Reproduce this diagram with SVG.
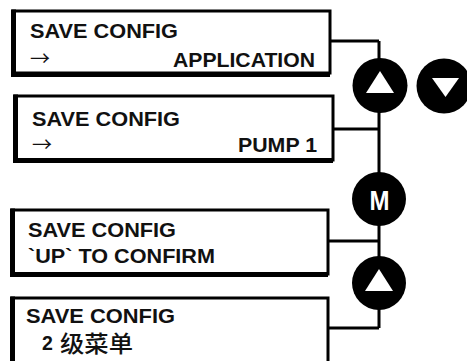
<svg xmlns="http://www.w3.org/2000/svg" width="467" height="361" viewBox="0 0 467 361">
<style>
.box{fill:#fff;stroke:#000;stroke-width:3}
.heavy{fill:none;stroke:#000;stroke-width:5}
.wire{fill:none;stroke:#000;stroke-width:3}
.t{font-family:"Liberation Sans",Arial,sans-serif;font-weight:bold;font-size:19.5px;fill:#111}
.arr{font-family:"Noto Sans CJK SC",sans-serif;font-size:20px;fill:#111}
.cjk{font-family:"Noto Sans CJK SC",sans-serif;font-weight:500;font-size:23px;fill:#111}
.btn{fill:#000}
.glyph{fill:#fff}
</style>
<rect width="467" height="361" fill="#fff"/>
<g id="connectors">
<path class="wire" d="M379 41V328"/>
<path class="wire" d="M330 41H379"/>
<path class="wire" d="M333 129H379"/>
<path class="wire" d="M328 241H379"/>
<path class="wire" d="M328 328H379"/>
</g>
<g id="box1">
<rect class="box" x="13" y="11" width="317" height="62"/>
<path class="heavy" d="M13.5 9.5V74.5H330"/>
<text class="t" x="30" y="38" textLength="148" lengthAdjust="spacingAndGlyphs">SAVE CONFIG</text>
<text class="arr" x="30" y="65.5">→</text>
<text class="t" x="173" y="67" textLength="142" lengthAdjust="spacingAndGlyphs">APPLICATION</text>
</g>
<g id="box2">
<rect class="box" x="15" y="96" width="318" height="64"/>
<path class="heavy" d="M15.5 94.5V160.5H333"/>
<text class="t" x="32" y="126" textLength="148" lengthAdjust="spacingAndGlyphs">SAVE CONFIG</text>
<text class="arr" x="32" y="152">→</text>
<text class="t" x="238" y="152" textLength="79" lengthAdjust="spacingAndGlyphs">PUMP 1</text>
</g>
<g id="box3">
<rect class="box" x="12" y="210" width="316" height="64"/>
<path class="heavy" d="M12.5 208.5V274.5H328"/>
<text class="t" x="28" y="237" textLength="148" lengthAdjust="spacingAndGlyphs">SAVE CONFIG</text>
<text class="t" x="28" y="263" textLength="187" lengthAdjust="spacingAndGlyphs">`UP` TO CONFIRM</text>
</g>
<g id="box4">
<rect class="box" x="12" y="298" width="316" height="80"/>
<path class="heavy" d="M12.5 296.5V380"/>
<text class="t" x="26" y="323" textLength="149" lengthAdjust="spacingAndGlyphs">SAVE CONFIG</text>
<text class="t" x="42" y="350">2</text>
<text class="cjk" x="60" y="352" textLength="73" lengthAdjust="spacingAndGlyphs">级菜单</text>
</g>
<g id="btn-up1">
<circle class="btn" cx="380" cy="85.5" r="27.5"/>
<polygon class="glyph" points="380,71 394,93 366,93"/>
</g>
<g id="btn-down">
<circle class="btn" cx="444" cy="86" r="27.5"/>
<polygon class="glyph" points="432,78 459,78 445.5,97"/>
</g>
<g id="btn-m">
<circle class="btn" cx="379" cy="199" r="27"/>
<text x="379.5" y="210" text-anchor="middle" font-family="Liberation Sans,Arial,sans-serif" font-weight="bold" font-size="28" fill="#fff" textLength="20" lengthAdjust="spacingAndGlyphs">M</text>
</g>
<g id="btn-up2">
<circle class="btn" cx="379" cy="283" r="27"/>
<polygon class="glyph" points="379,269 393,291 365,291"/>
</g>
</svg>
